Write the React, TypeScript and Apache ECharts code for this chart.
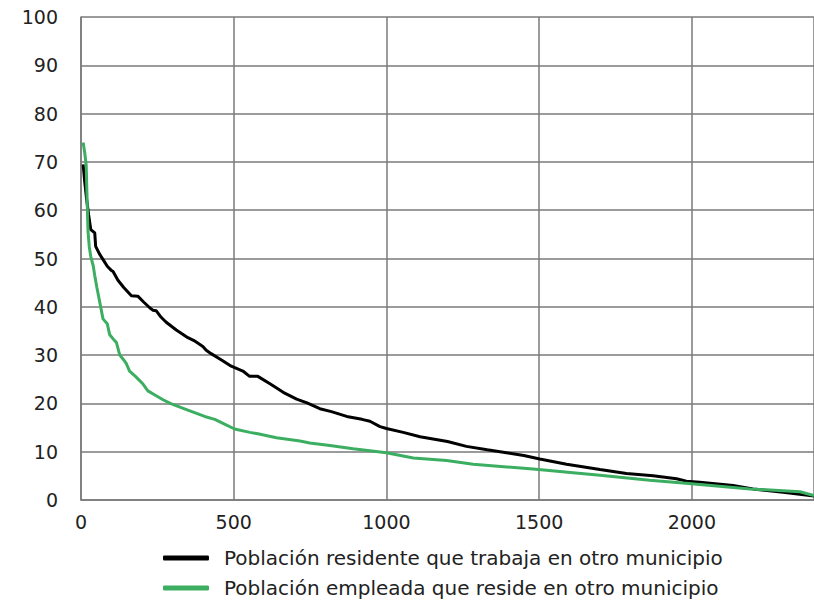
import React, { useEffect, useRef } from "react";
import * as echarts from "echarts";

const seriesNames = [
  "Población residente que trabaja en otro municipio",
  "Población empleada que reside en otro municipio",
];

const residentX = [7, 12, 18, 25, 32, 45, 48, 60, 75, 86, 100, 105, 121, 140, 165, 186, 205, 225, 235, 246, 260, 279, 312, 350, 370, 399, 410, 426, 460, 492, 530, 552, 579, 620, 662, 706, 740, 782, 820, 870, 920, 946, 979, 1000, 1055, 1110, 1200, 1262, 1330, 1393, 1450, 1502, 1590, 1699, 1786, 1873, 1950, 1982, 2026, 2135, 2200, 2299, 2400];
const residentY = [69.5, 66, 62.5, 59, 56, 55.3, 52.5, 51, 49.5, 48.4, 47.5, 47.3, 45.5, 44, 42.3, 42.2, 41, 39.8, 39.3, 39.2, 38, 36.8, 35.2, 33.6, 33, 31.8, 31, 30.3, 29, 27.7, 26.7, 25.6, 25.6, 24, 22.3, 20.9, 20.1, 18.9, 18.3, 17.3, 16.7, 16.3, 15.2, 14.8, 14.0, 13.1, 12.1, 11.1, 10.4, 9.8, 9.2, 8.5, 7.4, 6.3, 5.5, 5.0, 4.4, 3.9, 3.7, 3.0, 2.3, 1.6, 0.8];

const employedX = [7, 12, 17, 20, 23, 27, 32, 40, 45, 52, 61, 72, 86, 94, 110, 116, 127, 140, 148, 159, 180, 203, 219, 246, 270, 296, 350, 405, 438, 470, 503, 553, 579, 640, 717, 749, 815, 891, 1000, 1088, 1197, 1284, 1480, 1699, 1862, 1971, 2081, 2190, 2354, 2400];
const employedY = [74, 72, 69.3, 62.2, 55.6, 52.5, 50.4, 48.5, 46.5, 44, 41.1, 37.5, 36.5, 34.2, 33, 32.6, 30, 29, 28.3, 26.7, 25.5, 24.0, 22.6, 21.6, 20.7, 19.9, 18.6, 17.3, 16.7, 15.7, 14.7, 14.0, 13.7, 12.9, 12.2, 11.8, 11.3, 10.6, 9.8, 8.7, 8.2, 7.4, 6.4, 5.1, 4.1, 3.5, 2.9, 2.3, 1.7, 0.9];

const colors = ["#000000", "#3cae62"];

export default function App() {
  const ref = useRef<HTMLDivElement>(null);
  useEffect(() => {
    if (!ref.current) return;
    const chart = echarts.init(ref.current, null, { renderer: "svg" });
    const font = "DejaVu Sans";
    const gridColor = "#7a7a7a";
    chart.setOption({
      animation: false,
      grid: { left: 81, top: 17, right: 0, bottom: 100, containLabel: false },
      xAxis: {
        type: "value",
        min: 0,
        max: 2400,
        interval: 500,
        axisLine: { show: true, lineStyle: { color: gridColor, width: 1.5 } },
        axisTick: { show: false },
        splitLine: { show: true, lineStyle: { color: gridColor, width: 1.5 } },
        axisLabel: {
          showMaxLabel: false,
          margin: 12,
          color: "#222",
          fontFamily: font,
          fontSize: 19,
          formatter: (v: number) => String(v),
        },
      },
      yAxis: {
        type: "value",
        min: 0,
        max: 100,
        interval: 10,
        axisLine: { show: true, lineStyle: { color: gridColor, width: 1.5 } },
        axisTick: { show: false },
        splitLine: { show: true, lineStyle: { color: gridColor, width: 1.5 } },
        axisLabel: {
          margin: 23,
          color: "#222",
          fontFamily: font,
          fontSize: 19,
          formatter: (v: number) => String(v),
        },
      },
      legend: {
        orient: "vertical",
        left: 163,
        top: 548,
        padding: 0,
        itemWidth: 46,
        itemHeight: 5,
        itemGap: 10,
        icon: "roundRect",
        textStyle: {
          fontFamily: font,
          fontSize: 20,
          color: "#222",
          padding: [0, 0, 0, 10],
        },
        data: seriesNames,
      },
      series: [
        {
          name: seriesNames[0],
          type: "line",
          showSymbol: false,
          symbol: "none",
          lineStyle: { color: colors[0], width: 3 },
          itemStyle: { color: colors[0] },
          data: residentX.map((x, i) => [x, residentY[i]]),
        },
        {
          name: seriesNames[1],
          type: "line",
          showSymbol: false,
          symbol: "none",
          lineStyle: { color: colors[1], width: 3 },
          itemStyle: { color: colors[1] },
          data: employedX.map((x, i) => [x, employedY[i]]),
        },
      ],
    });
    return () => chart.dispose();
  }, []);
  return (
    <div
      ref={ref}
      style={{ position: "fixed", left: 0, top: 0, width: 814, height: 600, background: "#fff" }}
    />
  );
}
